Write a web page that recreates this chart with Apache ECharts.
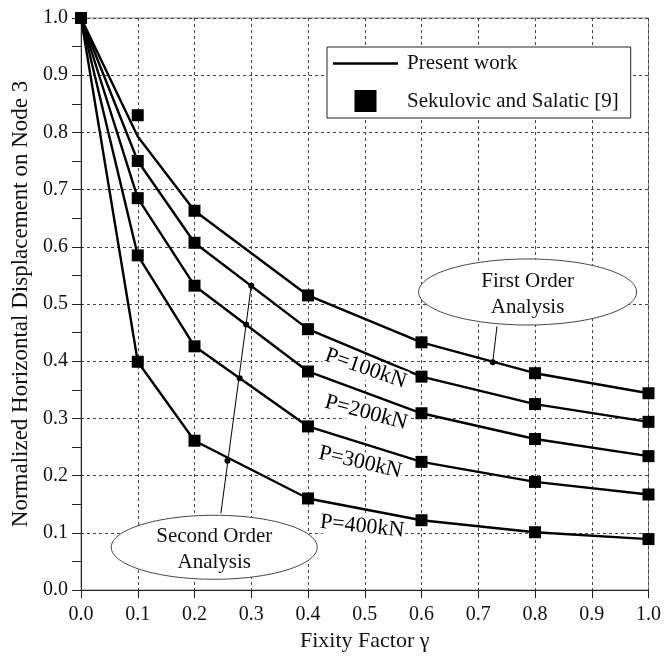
<!DOCTYPE html>
<html>
<head>
<meta charset="utf-8">
<script src="https://cdn.jsdelivr.net/npm/echarts@6/dist/echarts.min.js"></script>
<style>
  html, body { margin: 0; padding: 0; background: #fff; }
  #chart { width: 664px; height: 657px; }
</style>
</head>
<body>
<div id="chart"></div>
<script>
  var fontFamily = '"Liberation Serif", "Times New Roman", serif';

  // fixity factor positions
  var xValues = [0, 0.1, 0.2, 0.4, 0.6, 0.8, 1.0];

  // present work (lines)
  var firstOrder = [1.0, 0.793, 0.663, 0.515, 0.433, 0.379, 0.344];
  var p100 = [1.0, 0.750, 0.607, 0.456, 0.373, 0.325, 0.294];
  var p200 = [1.0, 0.685, 0.532, 0.382, 0.309, 0.264, 0.234];
  var p300 = [1.0, 0.585, 0.426, 0.286, 0.224, 0.189, 0.167];
  var p400 = [1.0, 0.399, 0.261, 0.160, 0.122, 0.101, 0.089];

  // Sekulovic and Salatic [9] (squares)
  var refFirst = [1.0, 0.830, 0.663, 0.515, 0.433, 0.379, 0.344];
  var ref100 = [1.0, 0.750, 0.607, 0.456, 0.373, 0.325, 0.294];
  var ref200 = [1.0, 0.685, 0.532, 0.382, 0.309, 0.264, 0.234];
  var ref300 = [1.0, 0.585, 0.426, 0.286, 0.224, 0.189, 0.167];
  var ref400 = [1.0, 0.399, 0.261, 0.160, 0.122, 0.101, 0.089];

  // annotations
  var loadNames = ['P=100kN', 'P=200kN', 'P=300kN', 'P=400kN'];
  var loadLabelPos = [[0.5015, 0.387], [0.5023, 0.310], [0.492, 0.223], [0.4953, 0.111]];
  var secondLeader = [[0.300, 0.532], [0.2465, 0.134]];
  var firstLeader = [[0.7255, 0.398], [0.733, 0.461]];
  var leaderDots = [[0.300, 0.532], [0.291, 0.464], [0.2797, 0.370], [0.258, 0.226], [0.7255, 0.398]];
  var noteNames = ['First Order\nAnalysis', 'Second Order\nAnalysis'];
  var noteCenters = [[0.787, 0.521], [0.2348, 0.0747]];

  function pairs(ys) {
    return xValues.map(function (x, i) { return [x, ys[i]]; });
  }

  var chart = echarts.init(document.getElementById('chart'));

  var lineSeries = [firstOrder, p100, p200, p300, p400].map(function (ys) {
    return {
      name: 'Present work',
      type: 'line',
      data: pairs(ys),
      symbol: 'none',
      lineStyle: { color: '#000', width: 2.4 },
      itemStyle: { color: '#000' },
      z: 3,
      silent: true
    };
  });

  var refSeries = [refFirst, ref100, ref200, ref300, ref400].map(function (ys) {
    return {
      name: 'Sekulovic and Salatic [9]',
      type: 'scatter',
      data: pairs(ys),
      symbol: 'rect',
      symbolSize: 12,
      itemStyle: { color: '#000', opacity: 1 },
      z: 4,
      silent: true
    };
  });

  var labelAngles = [-19, -15, -13, -6];

  var option = {
    animation: false,
    backgroundColor: '#fff',
    textStyle: { fontFamily: fontFamily },
    grid: {
      left: 81, right: 12, top: 18, bottom: 67,
      show: true, borderColor: '#888', borderWidth: 1, backgroundColor: 'transparent'
    },
    legend: {
      orient: 'vertical',
      left: 327, top: 47,
      selectedMode: false,
      data: [
        { name: 'Present work', icon: 'path://M0,0H65V2.4H0Z', itemStyle: { color: '#000', opacity: 1 } },
        { name: 'Sekulovic and Salatic [9]', icon: 'path://M0,0H10V10H0Z', itemStyle: { color: '#000', opacity: 1 } }
      ],
      itemWidth: 65, itemHeight: 22, itemGap: 16,
      padding: [6, 12, 6, 6],
      borderColor: '#222', borderWidth: 1, backgroundColor: '#fff',
      textStyle: { fontFamily: fontFamily, fontSize: 21, color: '#111', padding: [0, 0, 0, 4] }
    },
    xAxis: {
      type: 'value', min: 0, max: 1, interval: 0.1,
      name: 'Fixity Factor γ', nameLocation: 'middle', nameGap: 33,
      nameTextStyle: { fontFamily: fontFamily, fontSize: 22, color: '#111' },
      axisLine: { lineStyle: { color: '#222', width: 1 } },
      axisTick: { show: true, length: 8, lineStyle: { color: '#222' } },
      axisLabel: {
        fontFamily: fontFamily, fontSize: 20, color: '#111', margin: 15,
        formatter: function (v) { return v.toFixed(1); }
      },
      splitLine: { show: true, lineStyle: { color: '#444', width: 1, type: [3, 3] } }
    },
    yAxis: {
      type: 'value', min: 0, max: 1, interval: 0.1,
      name: 'Normalized Horizontal Displacement on Node 3', nameLocation: 'middle', nameGap: 48,
      nameTextStyle: { fontFamily: fontFamily, fontSize: 23, color: '#111' },
      axisLine: { show: true, lineStyle: { color: '#222', width: 1 } },
      axisTick: { show: true, length: 9, lineStyle: { color: '#222' } },
      minorTick: { show: true, splitNumber: 2, length: 9, lineStyle: { color: '#222' } },
      axisLabel: {
        fontFamily: fontFamily, fontSize: 20, color: '#111', margin: 13,
        formatter: function (v) { return v.toFixed(1); }
      },
      splitLine: { show: true, lineStyle: { color: '#444', width: 1, type: [3, 3] } }
    },
    series: lineSeries.concat(refSeries).concat([
      {
        name: 'leader-second',
        type: 'line',
        data: secondLeader,
        symbol: 'none',
        lineStyle: { color: '#000', width: 1 },
        z: 5,
        silent: true
      },
      {
        name: 'leader-first',
        type: 'line',
        data: firstLeader,
        symbol: 'none',
        lineStyle: { color: '#000', width: 1 },
        z: 5,
        silent: true
      },
      {
        name: 'leader-dots',
        type: 'scatter',
        data: leaderDots,
        symbol: 'circle',
        symbolSize: 6,
        itemStyle: { color: '#000', opacity: 1 },
        z: 5,
        silent: true
      },
      {
        name: 'notes',
        type: 'custom',
        data: noteCenters,
        z: 6,
        silent: true,
        renderItem: function (params, api) {
          var c = api.coord([api.value(0), api.value(1)]);
          var rx = params.dataIndex === 0 ? 109 : 103;
          var ry = params.dataIndex === 0 ? 33 : 32;
          return {
            type: 'group',
            children: [
              {
                type: 'ellipse',
                shape: { cx: c[0], cy: c[1], rx: rx, ry: ry },
                style: { fill: '#fff', stroke: '#444', lineWidth: 1 }
              },
              {
                type: 'text',
                x: c[0], y: c[1] + 2,
                style: {
                  text: noteNames[params.dataIndex],
                  font: '21px ' + fontFamily,
                  fill: '#111',
                  align: 'center',
                  verticalAlign: 'middle',
                  lineHeight: 26
                }
              }
            ]
          };
        }
      },
      {
        name: 'load-labels',
        type: 'scatter',
        symbol: 'circle',
        symbolSize: 1,
        itemStyle: { color: 'rgba(0,0,0,0)', opacity: 1 },
        z: 7,
        silent: true,
        data: loadLabelPos.map(function (p, i) {
          return {
            name: loadNames[i],
            value: p,
            label: { rotate: labelAngles[i] }
          };
        }),
        label: {
          show: true,
          position: 'inside',
          formatter: '{b}',
          fontFamily: fontFamily,
          fontSize: 22,
          color: '#000',
          opacity: 1,
          backgroundColor: '#fff',
          padding: [0, 1]
        }
      }
    ])
  };

  chart.setOption(option);
</script>
</body>
</html>
